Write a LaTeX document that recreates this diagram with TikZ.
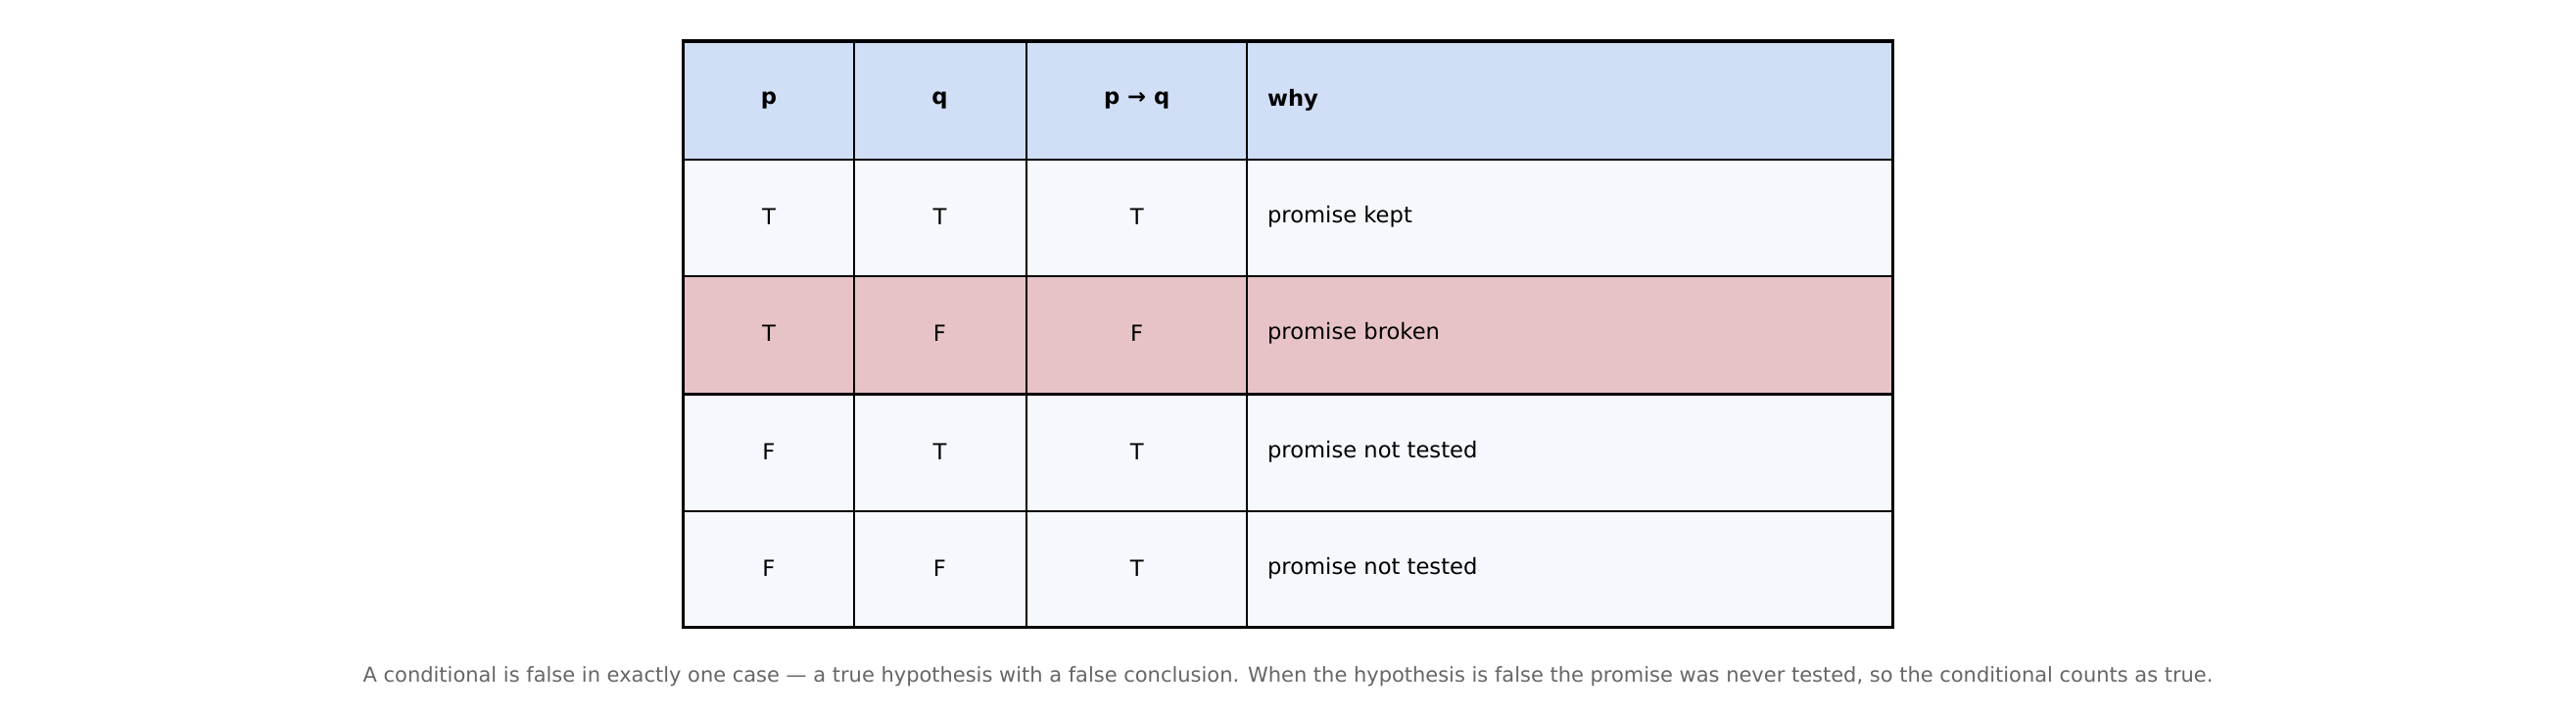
\documentclass[tikz,border=0pt]{standalone}
\usepackage{fontspec}
\setmainfont{DejaVu Sans}
\begin{document}
\begin{tikzpicture}[x=1pt,y=-1pt,
  hdr/.style={fill=blue!18!white!90!cyan!10},
  cellc/.style={anchor=center,font=\fontsize{13.5}{16}\selectfont},
  celll/.style={anchor=west,font=\fontsize{13.5}{16}\selectfont},
  grid/.style={draw=black,line width=1.3pt}]
\useasboundingbox (0,0) rectangle (1568,434);
\definecolor{hd}{HTML}{D0DEF6}
\definecolor{rw}{HTML}{F5F9FD}
\definecolor{bad}{HTML}{E7C3C7}
\def\xs{{416,520,625,759,1152}}
\fill[hd] (416,25) rectangle (1152,97);
\fill[rw] (416,97) rectangle (1152,168);
\fill[bad] (416,168) rectangle (1152,240);
\fill[rw] (416,240) rectangle (1152,382);
\foreach \y in {97,168,240,311} \draw[line width=1.3pt] (416,\y) -- (1152,\y);
\foreach \x in {520,625,759} \draw[line width=1.3pt] (\x,25) -- (\x,382);
\draw[line width=2pt] (416,25) rectangle (1152,382);
\node[cellc,font=\fontsize{13.5}{16}\selectfont\bfseries] (h1) at (468,61) {p};
\node[cellc,font=\fontsize{13.5}{16}\selectfont\bfseries] (h2) at (572,61) {q};
\node[cellc,font=\fontsize{13.5}{16}\selectfont\bfseries] (h3) at (692,61) {p → q};
\node[celll,font=\fontsize{13.5}{16}\selectfont\bfseries] (h4) at (768,61) {why};
\foreach \r/\y/\a/\b/\c/\w in {1/132/T/T/T/promise kept,2/203/T/F/F/promise broken,3/275/F/T/T/promise not tested,4/346/F/F/T/promise not tested}{
  \node[cellc] (a\r) at (468,\y) {\a};
  \node[cellc] (b\r) at (572,\y) {\b};
  \node[cellc] (c\r) at (692,\y) {\c};
  \node[celll] (w\r) at (768,\y) {\w};
}
\node[font=\fontsize{12.5}{15}\selectfont,text=black!60] (cap) at (784,412) {A conditional is false in exactly one case — a true hypothesis with a false conclusion. When the hypothesis is false the promise was never tested, so the conditional counts as true.};
\end{tikzpicture}
\end{document}
